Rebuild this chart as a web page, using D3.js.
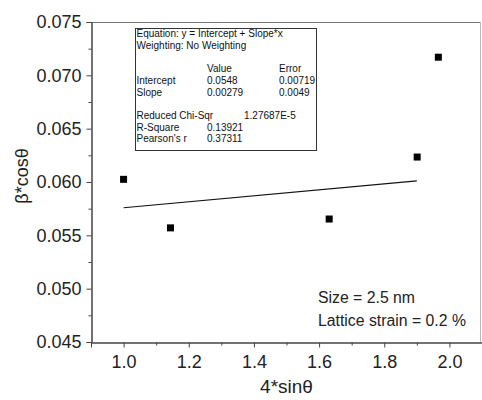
<!DOCTYPE html>
<html><head><meta charset="utf-8">
<script src="https://cdn.jsdelivr.net/npm/d3@7"></script>
<style>body{margin:0;background:#fff;} svg{display:block;font-family:"Liberation Sans",Arial,sans-serif;}</style>
</head><body>
<svg id="c" width="482" height="400"></svg>
<script>
// data
const xValues = [1.0, 1.144, 1.631, 1.901, 1.966];
const yValues = [0.06025, 0.0557, 0.05653, 0.06234, 0.0717];
const intercept = 0.0548, slope = 0.00279;
const fitRange = [1.0, 1.9];
const xTicks = [1.0, 1.2, 1.4, 1.6, 1.8, 2.0];
const yTicks = [0.045, 0.050, 0.055, 0.060, 0.065, 0.070, 0.075];
const boxRows = [
  ["Equation: y = Intercept + Slope*x"],
  ["Weighting: No Weighting"],
  [""],
  ["", "Value", "Error"],
  ["Intercept", "0.0548", "0.00719"],
  ["Slope", "0.00279", "0.0049"],
  [""],
  ["Reduced Chi-Sqr", "", "", "1.27687E-5"],
  ["R-Square", "0.13921"],
  ["Pearson's r", "0.37311"]
];
const notes = ["Size = 2.5 nm", "Lattice strain = 0.2 %"];

const svg = d3.select("#c");
const L = 91, R = 482, T = 22, B = 342;
const x = d3.scaleLinear().domain([0.9, 2.1]).range([L, R]);
const y = d3.scaleLinear().domain([0.045, 0.075]).range([B, T]);

// frame
svg.append("line").attr("x1", L).attr("x2", R - 1).attr("y1", T + 0.5).attr("y2", T + 0.5).attr("stroke", "#777");
svg.append("line").attr("x1", R - 1.5).attr("x2", R - 1.5).attr("y1", T).attr("y2", B).attr("stroke", "#bbb");

// minor ticks
const xMinor = d3.range(0.9, 2.101, 0.1).map(v => +v.toFixed(2)).filter(v => !xTicks.includes(v));
const yMinor = d3.range(0.0475, 0.075, 0.005).map(v => +v.toFixed(4));

const gx = svg.append("g").attr("transform", `translate(0,${B + 0.5})`);
gx.call(d3.axisBottom(x).tickValues(xMinor).tickSize(3).tickFormat(""));
gx.append("g").call(d3.axisBottom(x).tickValues(xTicks).tickSize(5).tickPadding(8).tickFormat(d3.format(".1f")));
gx.selectAll("path.domain").attr("stroke", "#444");
gx.selectAll("line").attr("stroke", "#444");
gx.selectAll("text").attr("font-size", 18).attr("fill", "#222").attr("font-family", "Liberation Sans, Arial, sans-serif");

const gy = svg.append("g").attr("transform", `translate(${L + 0.5},0)`);
gy.call(d3.axisLeft(y).tickValues(yMinor).tickSize(3).tickFormat(""));
gy.append("g").call(d3.axisLeft(y).tickValues(yTicks).tickSize(5).tickPadding(5).tickFormat(d3.format(".3f")));
gy.selectAll("path.domain").attr("stroke", "#444");
gy.selectAll("line").attr("stroke", "#444");
gy.selectAll("text").attr("font-size", 18).attr("fill", "#222").attr("font-family", "Liberation Sans, Arial, sans-serif");

// axis titles
svg.append("text").attr("x", (L + R) / 2).attr("y", 393).attr("text-anchor", "middle")
  .attr("font-size", 19).attr("fill", "#222").text("4*sinθ");
svg.append("text").attr("transform", "translate(28,176) rotate(-90)").attr("text-anchor", "middle")
  .attr("font-size", 18).attr("fill", "#222").text("β*cosθ");

// fit line
svg.append("line")
  .attr("x1", x(fitRange[0])).attr("y1", y(intercept + slope * fitRange[0]))
  .attr("x2", x(fitRange[1])).attr("y2", y(intercept + slope * fitRange[1]))
  .attr("stroke", "#111").attr("stroke-width", 1.1);

// points
svg.selectAll("rect.pt").data(xValues).join("rect").attr("class", "pt")
  .attr("x", (d) => x(d) - 3.5).attr("y", (d, i) => y(yValues[i]) - 3.5)
  .attr("width", 7).attr("height", 7).attr("fill", "#000");

// stats box
const bx = 135, by = 28, bw = 181, bh = 122;
svg.append("rect").attr("x", bx + 0.5).attr("y", by + 0.5).attr("width", bw).attr("height", bh)
  .attr("fill", "#fff").attr("stroke", "#333").attr("stroke-width", 1);
const colX = [bx + 1.5, bx + 72, bx + 144, bx + 109];
boxRows.forEach((row, i) => {
  row.forEach((t, j) => {
    if (!t) return;
    svg.append("text").attr("x", colX[j]).attr("y", by + 9 + i * 11.7)
      .attr("font-size", 10).attr("fill", "#111").text(t);
  });
});

// notes
notes.forEach((t, i) => {
  svg.append("text").attr("x", 318).attr("y", 303 + i * 23).attr("font-size", 15.8).attr("fill", "#222").text(t);
});
</script>
</body></html>
